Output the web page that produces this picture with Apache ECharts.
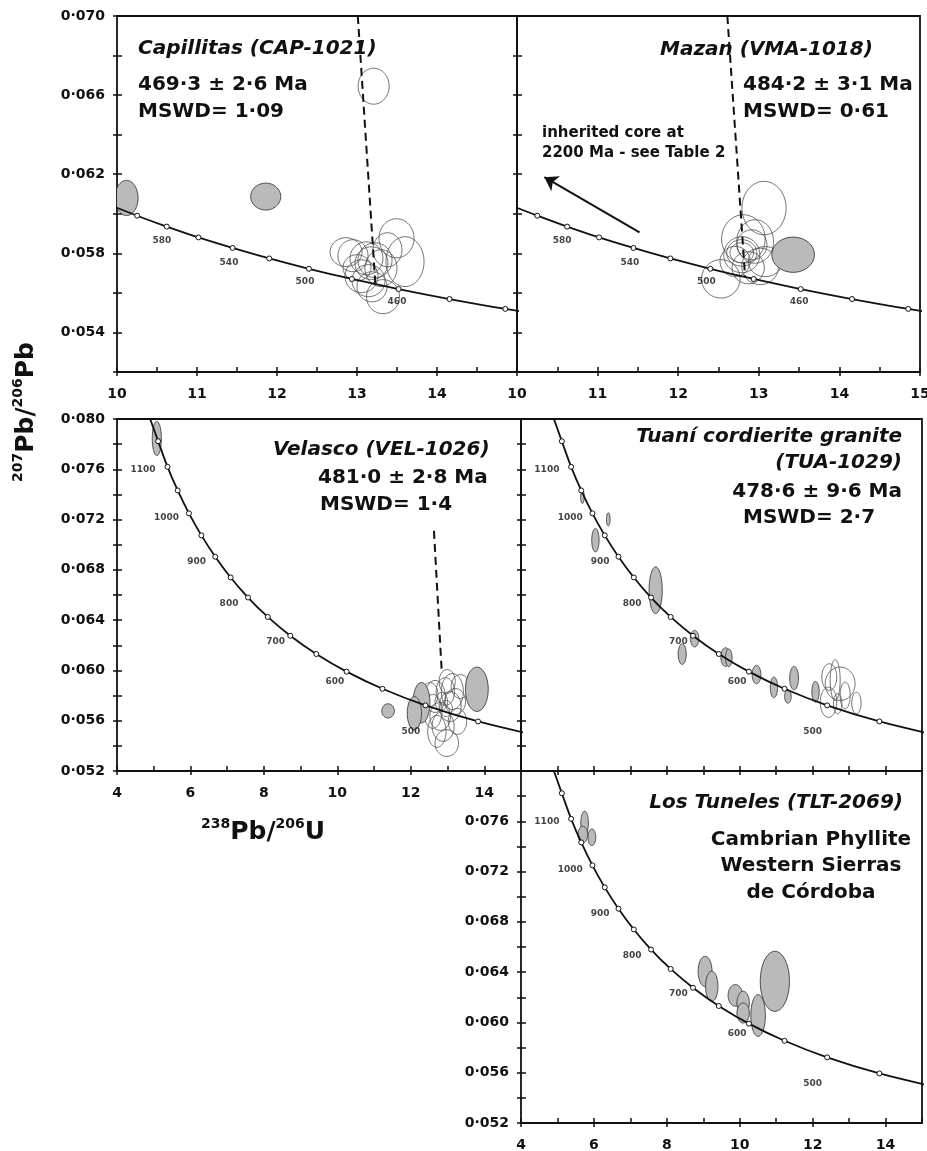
<!DOCTYPE html>
<html><head><meta charset="utf-8">
<script src="https://cdn.jsdelivr.net/npm/echarts@6/dist/echarts.min.js"></script>
<style>html,body{margin:0;padding:0;background:#fff}#c{width:927px;height:1151px}</style>
</head><body><div id="c"></div>
<script>
// ---------- DATA (238U/206Pb, 207Pb/206Pb) ----------
// Concordia points [x, y, age Ma]
const topConcordia = [[9.905,0.060458,620],[10.252,0.059902,600],[10.622,0.059352,580],[11.018,0.058805,560],[11.445,0.058272,540],[11.903,0.057741,520],[12.399,0.057219,500],[12.936,0.056703,480],[13.520,0.056193,460],[14.157,0.055690,440],[14.854,0.055191,420],[15.621,0.054702,400]];
const midConcordia = [[4.888,0.080125,1200],[5.120,0.078232,1150],[5.375,0.076196,1100],[5.653,0.074316,1050],[5.959,0.072493,1000],[6.298,0.070745,950],[6.674,0.069044,900],[7.095,0.067395,850],[7.568,0.065800,800],[8.105,0.064255,750],[8.718,0.062759,700],[9.426,0.061308,650],[10.252,0.059902,600],[11.228,0.058539,550],[12.399,0.057219,500],[13.831,0.055941,450],[15.621,0.054702,400]];
// Age labels [x, y, text]
const topAgeLabels = [[10.56,0.05864,'580'],[11.40,0.05753,'540'],[12.35,0.05656,'500'],[13.50,0.05555,'460']];
const midAgeLabels = [[4.71,0.07594,'1100'],[5.35,0.07215,'1000'],[6.17,0.06862,'900'],[7.05,0.06532,'800'],[8.32,0.06225,'700'],[9.93,0.05912,'600'],[12.0,0.05515,'500']];
// Ellipses [x, y, semi-axis x, semi-axis y]
const capOpen = [[13.208,0.06645,0.194,0.00091],[12.863,0.05806,0.200,0.00073],[12.950,0.05788,0.188,0.00081],[13.119,0.05775,0.206,0.00083],[13.225,0.05765,0.213,0.00088],[13.056,0.05684,0.206,0.00083],[13.144,0.05662,0.206,0.00081],[13.325,0.05581,0.206,0.00086],[13.300,0.05725,0.200,0.00093],[13.381,0.05818,0.181,0.00086],[13.181,0.05750,0.206,0.00083],[13.494,0.05876,0.219,0.00099],[13.600,0.05758,0.238,0.00126],[13.188,0.05631,0.188,0.00076],[13.000,0.05727,0.175,0.00066]];
const capFilled = [[10.119,0.06080,0.144,0.00089],[11.859,0.06087,0.188,0.00068]];
const vmaOpen = [[13.065,0.06029,0.274,0.00135],[12.809,0.05873,0.270,0.00122],[13.017,0.05734,0.228,0.00092],[12.529,0.05671,0.239,0.00097],[12.789,0.05793,0.224,0.00091],[12.789,0.05802,0.187,0.00067],[12.789,0.05803,0.146,0.00051],[12.706,0.05759,0.187,0.00076],[12.914,0.05843,0.187,0.00076],[12.955,0.05860,0.228,0.00110],[12.868,0.05727,0.200,0.00081],[13.080,0.05758,0.212,0.00076]];
const vmaFilled = [[13.426,0.05793,0.264,0.00089]];
const velOpen = [[12.66,0.05793,0.28,0.00127],[12.94,0.05832,0.25,0.00111],[13.07,0.05713,0.30,0.00119],[12.80,0.05634,0.28,0.00111],[12.60,0.05674,0.25,0.00135],[13.21,0.05753,0.28,0.00103],[12.88,0.05555,0.30,0.00119],[12.98,0.05422,0.32,0.00106],[12.71,0.05515,0.25,0.00127],[13.35,0.05872,0.25,0.00095],[12.99,0.05912,0.22,0.00095],[12.52,0.05808,0.22,0.00095],[13.27,0.05594,0.25,0.00103],[12.83,0.05753,0.17,0.00071],[12.96,0.05697,0.17,0.00064],[13.13,0.05832,0.30,0.00143]];
const velFilled = [[5.084,0.07845,0.124,0.00136],[11.381,0.05678,0.171,0.00057],[13.798,0.05850,0.310,0.00176],[12.29,0.05743,0.230,0.00161],[12.097,0.05660,0.194,0.00132]];
const tuaOpen = [[12.457,0.05947,0.205,0.00106],[12.755,0.05894,0.41,0.00133],[12.435,0.05747,0.227,0.00120],[12.618,0.05923,0.137,0.00162],[12.687,0.05735,0.115,0.00080],[12.892,0.05801,0.137,0.00106],[13.201,0.05741,0.128,0.00086]];
const tuaFilled = [[5.685,0.07381,0.05,0.00053],[6.394,0.07202,0.05,0.00052],[6.041,0.07036,0.10,0.00093],[7.694,0.06638,0.18,0.00186],[8.763,0.06253,0.115,0.00066],[8.421,0.06130,0.11,0.00082],[9.612,0.06106,0.13,0.00074],[9.70,0.06100,0.09,0.00070],[10.46,0.05967,0.12,0.00073],[10.938,0.05865,0.10,0.00082],[11.322,0.05793,0.09,0.00053],[11.491,0.05939,0.12,0.00093],[12.079,0.05830,0.10,0.00082]];
const tltFilled = [[5.745,0.07587,0.105,0.00093],[5.696,0.07494,0.13,0.00066],[5.945,0.07473,0.105,0.00066],[9.049,0.06406,0.19,0.00120],[9.233,0.06287,0.17,0.00120],[9.881,0.06215,0.20,0.00086],[10.094,0.06155,0.17,0.00093],[10.094,0.06075,0.17,0.00080],[10.504,0.06055,0.20,0.00166],[10.964,0.06327,0.40,0.00239]];
// Discordia / arrow lines
const capDiscordia = [[13.01,0.0700],[13.23,0.0564]];
const vmaDiscordia = [[12.61,0.0700],[12.83,0.0568]];
const velDiscordia = [[12.63,0.0711],[12.84,0.0600]];
const vmaArrow = [[11.52,0.05906],[10.34,0.06185]];
// Ticks and tick labels
const topXLabelsL = [10,11,12,13,14];
const topXLabelsR = [10,11,12,13,14,15];
const topXMajor = [10,11,12,13,14,15];
const topXAll = [10,10.5,11,11.5,12,12.5,13,13.5,14,14.5,15];
const topYTicks = [0.052,0.054,0.056,0.058,0.060,0.062,0.064,0.066,0.068,0.070];
const topYLabels = [0.054,0.058,0.062,0.066,0.070];
const midXLabels = [4,6,8,10,12,14];
const midXMajor = [4,6,8,10,12,14];
const midXAll = [4,5,6,7,8,9,10,11,12,13,14,15];
const tuaXTicks = [5,6,7,8,9,10,11,12,13,14];
const midYTicks = [0.052,0.054,0.056,0.058,0.060,0.062,0.064,0.066,0.068,0.070,0.072,0.074,0.076,0.078,0.080];
const velYLabels = [0.052,0.056,0.060,0.064,0.068,0.072,0.076,0.080];
const tltYLabels = [0.052,0.056,0.060,0.064,0.068,0.072,0.076];

// ---------- LAYOUT ----------
const F = "'DejaVu Sans', 'Liberation Sans', sans-serif";
const INK = '#111';
const panels = [
  {grid:{left:117,top:16,width:400,height:356}, xr:[10,15], yr:[0.052,0.070], xLab:topXLabelsL, xOut:topXMajor, xIn:topXAll, yLab:topYLabels, yOut:topYTicks, yIn:topYTicks, conc:topConcordia, ages:topAgeLabels, open:capOpen, filled:capFilled, disc:[capDiscordia]},
  {grid:{left:517,top:16,width:403,height:356}, xr:[10,15], yr:[0.052,0.070], xLab:topXLabelsR, xOut:topXMajor, xIn:topXAll, yLab:null, yOut:topYTicks, yIn:topYTicks, conc:topConcordia, ages:topAgeLabels, open:vmaOpen, filled:vmaFilled, disc:[vmaDiscordia], arrow:vmaArrow},
  {grid:{left:117,top:419,width:404,height:352}, xr:[4,15], yr:[0.052,0.080], xLab:midXLabels, xOut:midXMajor, xIn:midXAll, yLab:velYLabels, yOut:midYTicks, yIn:midYTicks, conc:midConcordia, ages:midAgeLabels, open:velOpen, filled:velFilled, disc:[velDiscordia]},
  {grid:{left:521,top:419,width:401,height:352}, xr:[4,15], yr:[0.052,0.080], xLab:null, xOut:tuaXTicks, xIn:tuaXTicks, yLab:null, yOut:midYTicks, yIn:midYTicks, conc:midConcordia, ages:midAgeLabels, open:tuaOpen, filled:tuaFilled, disc:[]},
  {grid:{left:521,top:771,width:401,height:352}, xr:[4,15], yr:[0.052,0.080], xLab:midXLabels, xOut:midXMajor, xIn:midXAll, yLab:tltYLabels, yOut:midYTicks, yIn:midYTicks, conc:midConcordia, ages:midAgeLabels, open:[], filled:tltFilled, disc:[]}
];

const grids = [], xAxes = [], yAxes = [], series = [];
const tickStyle = {color:INK, width:1.5};
const labelFont = {fontFamily:F, fontWeight:'bold', fontSize:14, color:INK};

function ellipseRender(filled){
  return function(params, api){
    const cx = api.value(0), cy = api.value(1), rx = api.value(2), ry = api.value(3);
    const pts = [];
    for (let k = 0; k < 64; k++) {
      const a = 2 * Math.PI * k / 64;
      pts.push(api.coord([cx + rx * Math.cos(a), cy + ry * Math.sin(a)]));
    }
    return {type:'polygon', shape:{points:pts},
      style: filled ? {fill:'#bababa', stroke:'#3a3a3a', lineWidth:0.9} : {fill:'none', stroke:'#4d4d4d', lineWidth:0.8}};
  };
}

panels.forEach((p, i) => {
  grids.push(Object.assign({show:true, borderColor:INK, borderWidth:1.8, backgroundColor:'transparent', containLabel:false, outerBoundsMode:'none'}, p.grid));
  const xi = xAxes.length, yi = yAxes.length;
  xAxes.push({gridIndex:i, type:'value', min:p.xr[0], max:p.xr[1], position:'bottom',
    axisLine:{show:false, onZero:false}, splitLine:{show:false},
    axisTick:{show:true, customValues:p.xOut, inside:false, length:4, lineStyle:tickStyle},
    axisLabel: p.xLab ? Object.assign({show:true, customValues:p.xLab, margin:15, formatter:v => String(v)}, labelFont) : {show:false}});
  xAxes.push({gridIndex:i, type:'value', min:p.xr[0], max:p.xr[1], position:'bottom',
    axisLine:{show:false, onZero:false}, splitLine:{show:false},
    axisTick:{show:true, customValues:p.xIn, inside:true, length:5, lineStyle:tickStyle}, axisLabel:{show:false}});
  yAxes.push({gridIndex:i, type:'value', min:p.yr[0], max:p.yr[1], position:'left',
    axisLine:{show:false, onZero:false}, splitLine:{show:false},
    axisTick:{show:true, customValues:p.yOut, inside:false, length:4, lineStyle:tickStyle},
    axisLabel: p.yLab ? Object.assign({show:true, customValues:p.yLab, margin:12, formatter:v => v.toFixed(3).replace('.', '\u00b7')}, labelFont) : {show:false}});
  yAxes.push({gridIndex:i, type:'value', min:p.yr[0], max:p.yr[1], position:'left',
    axisLine:{show:false, onZero:false}, splitLine:{show:false},
    axisTick:{show:true, customValues:p.yIn, inside:true, length:5, lineStyle:tickStyle}, axisLabel:{show:false}});

  const ax = {xAxisIndex:xi, yAxisIndex:yi};
  if (p.open.length) series.push(Object.assign({type:'custom', renderItem:ellipseRender(false), data:p.open, encode:{x:0, y:1}, clip:true, silent:true, z:2}, ax));
  if (p.filled.length) series.push(Object.assign({type:'custom', renderItem:ellipseRender(true), data:p.filled, encode:{x:0, y:1}, clip:true, silent:true, z:2}, ax));
  series.push(Object.assign({type:'line', smooth:0.35, clip:true, silent:true, z:3, showAllSymbol:true,
    symbol:'circle', symbolSize:5, itemStyle:{color:'#fff', borderColor:INK, borderWidth:1},
    lineStyle:{color:INK, width:1.8},
    data:p.conc.map(c => ({value:[c[0], c[1]], symbol:(c[0] >= p.xr[0] && c[0] <= p.xr[1] && c[1] >= p.yr[0] && c[1] <= p.yr[1]) ? 'circle' : 'none'}))}, ax));
  series.push(Object.assign({type:'scatter', silent:true, z:4, symbolSize:1, itemStyle:{color:'rgba(0,0,0,0)'},
    label:{show:true, position:'inside', formatter:q => q.value[2], fontFamily:F, fontWeight:'bold', fontSize:9, color:INK},
    data:p.ages}, ax));
  p.disc.forEach(d => series.push(Object.assign({type:'line', silent:true, z:5, symbol:'none', clip:true,
    lineStyle:{color:INK, width:2, type:[8,5]}, data:d}, ax)));
  if (p.arrow) series.push(Object.assign({type:'lines', coordinateSystem:'cartesian2d', silent:true, z:5,
    symbol:['none','arrow'], symbolSize:[1,13], lineStyle:{color:INK, width:2, opacity:1},
    data:[{coords:p.arrow}]}, ax));
});

function txt(x, y, text, opt){
  opt = opt || {};
  return {type:'text', x:x, y:y, z:100, silent:true,
    style:{text:text, fill:INK, fontFamily:F, fontWeight:'bold', fontStyle:opt.italic ? 'italic' : 'normal',
      fontSize:opt.size || 20, align:opt.align || 'left', verticalAlign:'middle'}};
}
const richTitle = {
  s:{fontFamily:F, fontWeight:'bold', fontSize:14, fill:INK, verticalAlign:'top', lineHeight:14},
  b:{fontFamily:F, fontWeight:'bold', fontSize:25, fill:INK, verticalAlign:'bottom', lineHeight:28}
};
const graphic = [
  txt(138, 49, 'Capillitas (CAP-1021)', {italic:true}),
  txt(138, 85, '469\u00b73 \u00b1 2\u00b76 Ma'),
  txt(138, 112, 'MSWD= 1\u00b709'),
  txt(660, 50, 'Mazan (VMA-1018)', {italic:true}),
  txt(743, 85, '484\u00b72 \u00b1 3\u00b71 Ma'),
  txt(743, 112, 'MSWD= 0\u00b761'),
  txt(542, 133, 'inherited core at', {size:15}),
  txt(542, 153, '2200 Ma - see Table 2', {size:15}),
  txt(273, 450, 'Velasco (VEL-1026)', {italic:true}),
  txt(318, 478, '481\u00b70 \u00b1 2\u00b78 Ma'),
  txt(320, 505, 'MSWD= 1\u00b74'),
  txt(902, 437, 'Tuan\u00ed cordierite granite', {italic:true, align:'right'}),
  txt(902, 463, '(TUA-1029)', {italic:true, align:'right'}),
  txt(902, 492, '478\u00b76 \u00b1 9\u00b76 Ma', {align:'right'}),
  txt(743, 518, 'MSWD= 2\u00b77'),
  txt(903, 803, 'Los Tuneles (TLT-2069)', {italic:true, align:'right'}),
  txt(811, 840, 'Cambrian Phyllite', {align:'center'}),
  txt(811, 866, 'Western Sierras', {align:'center'}),
  txt(811, 893, 'de C\u00f3rdoba', {align:'center'}),
  {type:'text', x:25, y:412, rotation:Math.PI/2, z:100, silent:true,
    style:{text:'{s|207}{b|Pb/}{s|206}{b|Pb}', rich:richTitle, align:'center', verticalAlign:'middle'}},
  {type:'text', x:263, y:831, z:100, silent:true,
    style:{text:'{s|238}{b|Pb/}{s|206}{b|U}', rich:richTitle, align:'center', verticalAlign:'middle'}}
];

const chart = echarts.init(document.getElementById('c'), null, {renderer:'canvas'});
chart.setOption({animation:false, backgroundColor:'#fff', grid:grids, xAxis:xAxes, yAxis:yAxes, series:series, graphic:graphic});
</script></body></html>
